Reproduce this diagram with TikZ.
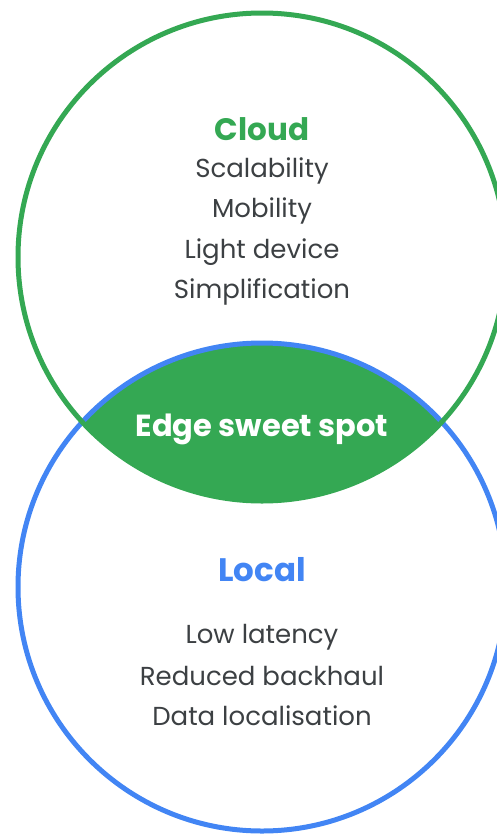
\documentclass[tikz,border=0pt]{standalone}
\usepackage{fontspec}
\setmainfont{Poppins}
\definecolor{gGreen}{HTML}{34A853}
\definecolor{gBlue}{HTML}{4285F4}
\definecolor{gText}{HTML}{3C4043}

\begin{document}
\begin{tikzpicture}[x=1pt,y=-1pt,
  title/.style={anchor=base,inner sep=0pt,font=\fontsize{31}{36}\selectfont\bfseries},
  item/.style={anchor=base,inner sep=0pt,text=gText,font=\fontsize{26}{31}\selectfont}]
\useasboundingbox (0,0) rectangle (497,835);
% overlap of the two circles
\begin{scope}
\clip (262,257) circle (244);
\fill[gGreen] (262,587) circle (244);
\end{scope}
\draw[gBlue,line width=5pt] (262,587) circle (244);
\draw[gGreen,line width=5pt] (262,257) circle (244);
% cloud side
\node[title,text=gGreen] (cloud) at (262,140) {Cloud};
\node[item] (scal) at (262,177) {Scalability};
\node[item] (mob) at (262,217) {Mobility};
\node[item] (light) at (262,258) {Light device};
\node[item] (simp) at (262,298) {Simplification};
% overlap
\node[title,text=white,font=\fontsize{30.5}{36}\selectfont\bfseries] (edge) at (262,436) {Edge sweet spot};
% local side
\node[title,text=gBlue,font=\fontsize{32.5}{38}\selectfont\bfseries] (local) at (262,581) {Local};
\node[item] (lat) at (262,643) {Low latency};
\node[item] (back) at (262,685) {Reduced backhaul};
\node[item] (data) at (262,725) {Data localisation};
\end{tikzpicture}
\end{document}
